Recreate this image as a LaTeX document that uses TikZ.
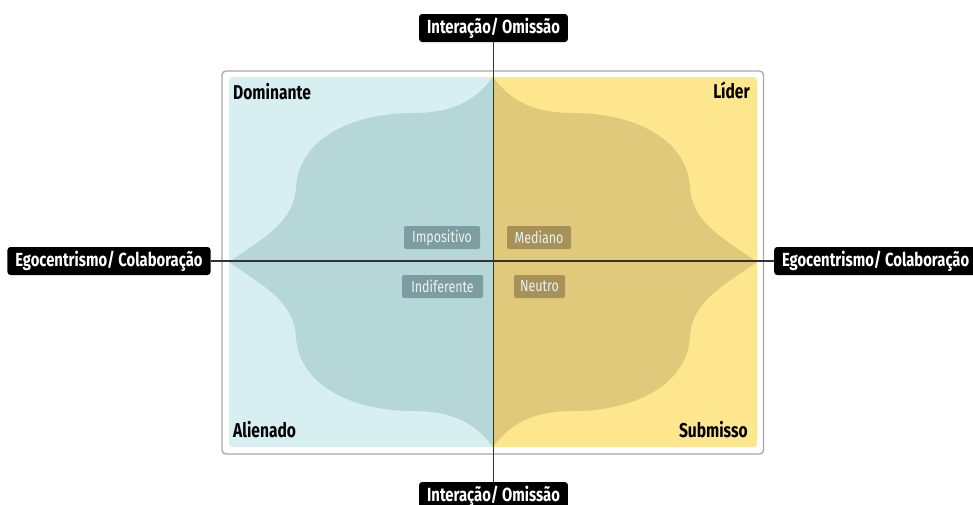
\documentclass[tikz,border=0pt]{standalone}
\usepackage{fontspec}
\setmainfont{Fira Sans}[FakeStretch=0.78]
\definecolor{panelcyan}{HTML}{D8EFF1}
\definecolor{panelteal}{HTML}{B6D7D7}
\definecolor{panelyellow}{HTML}{FEE68F}
\definecolor{paneldark}{HTML}{E0C97A}
\definecolor{frame}{HTML}{A8A8A8}
\definecolor{axisline}{HTML}{333333}
\definecolor{tagteal}{HTML}{7D9EA1}
\definecolor{tagolive}{HTML}{A69258}
\definecolor{tagtext}{HTML}{EEF2EE}
\tikzset{
  axislabel/.style={fill=black, text=white, rounded corners=3pt,
    font=\bfseries\fontsize{19}{22}\selectfont, inner xsep=8pt, inner ysep=0pt,
    minimum height=28pt},
  cornerlabel/.style={font=\bfseries\fontsize{20}{23}\selectfont, inner sep=0pt},
  tag/.style={rounded corners=2pt, text=tagtext, font=\fontsize{16}{18}\selectfont,
    inner sep=0pt, minimum height=23pt},
  tealtag/.style={tag, fill=tagteal},
  olivetag/.style={tag, fill=tagolive},
  axis/.style={draw=axisline, line width=1.6pt}
}
\begin{document}
\begin{tikzpicture}[x=1pt, y=-1pt]
\useasboundingbox (0,0) rectangle (973,504);

% frame and the two halves of the panel
\draw[frame, line width=1.3pt, rounded corners=4pt] (222,71) rectangle (763.5,454);
\fill[panelcyan, rounded corners=3pt] (229,77) rectangle (497,447);
\fill[panelyellow, rounded corners=3pt] (489,77) rectangle (757,447);
\fill[panelyellow] (493,77) rectangle (497,447);

% curved central region, left half
\fill[panelteal] (493,77)
  .. controls (478,97) and (458,113) .. (413,113)
  .. controls (350,113) and (299,140) .. (296,187)
  .. controls (294,222) and (265,237) .. (229,262)
  .. controls (265,287) and (294,302) .. (296,337)
  .. controls (299,384) and (350,411) .. (413,411)
  .. controls (458,411) and (478,427) .. (493,447) -- cycle;

% curved central region, right half
\fill[paneldark] (493,77)
  .. controls (508,97) and (528,113) .. (573,113)
  .. controls (636,113) and (687,140) .. (690,187)
  .. controls (692,222) and (721,237) .. (757,262)
  .. controls (721,287) and (692,302) .. (690,337)
  .. controls (687,384) and (636,411) .. (573,411)
  .. controls (528,411) and (508,427) .. (493,447) -- cycle;

% axis labels
\node[axislabel] (top) at (493.5,28) {Interação/ Omissão};
\node[axislabel] (bottom) at (493.5,496) {Interação/ Omissão};
\node[axislabel] (left) at (109,261) {Egocentrismo/ Colaboração};
\node[axislabel, anchor=west] (right) at (774,261) {Egocentrismo/ Colaboração};

% axes
\draw[axis] (top) -- (bottom);
\draw[axis] (left) -- (right);

% quadrant names
\node[cornerlabel, anchor=base west] (dominante) at (233,99) {Dominante};
\node[cornerlabel, anchor=base east] (lider) at (750,98) {Líder};
\node[cornerlabel, anchor=base west] (alienado) at (233,437) {Alienado};
\node[cornerlabel, anchor=base east] (submisso) at (748,437) {Submisso};

% central tags
\node[tealtag, minimum width=76pt] (impositivo) at (442,237.5) {Impositivo};
\node[olivetag, minimum width=64pt] (mediano) at (539,237.5) {Mediano};
\node[tealtag, minimum width=81pt] (indiferente) at (442.5,286.5) {Indiferente};
\node[olivetag, minimum width=51pt] (neutro) at (539.5,286.5) {Neutro};
\end{tikzpicture}
\end{document}
